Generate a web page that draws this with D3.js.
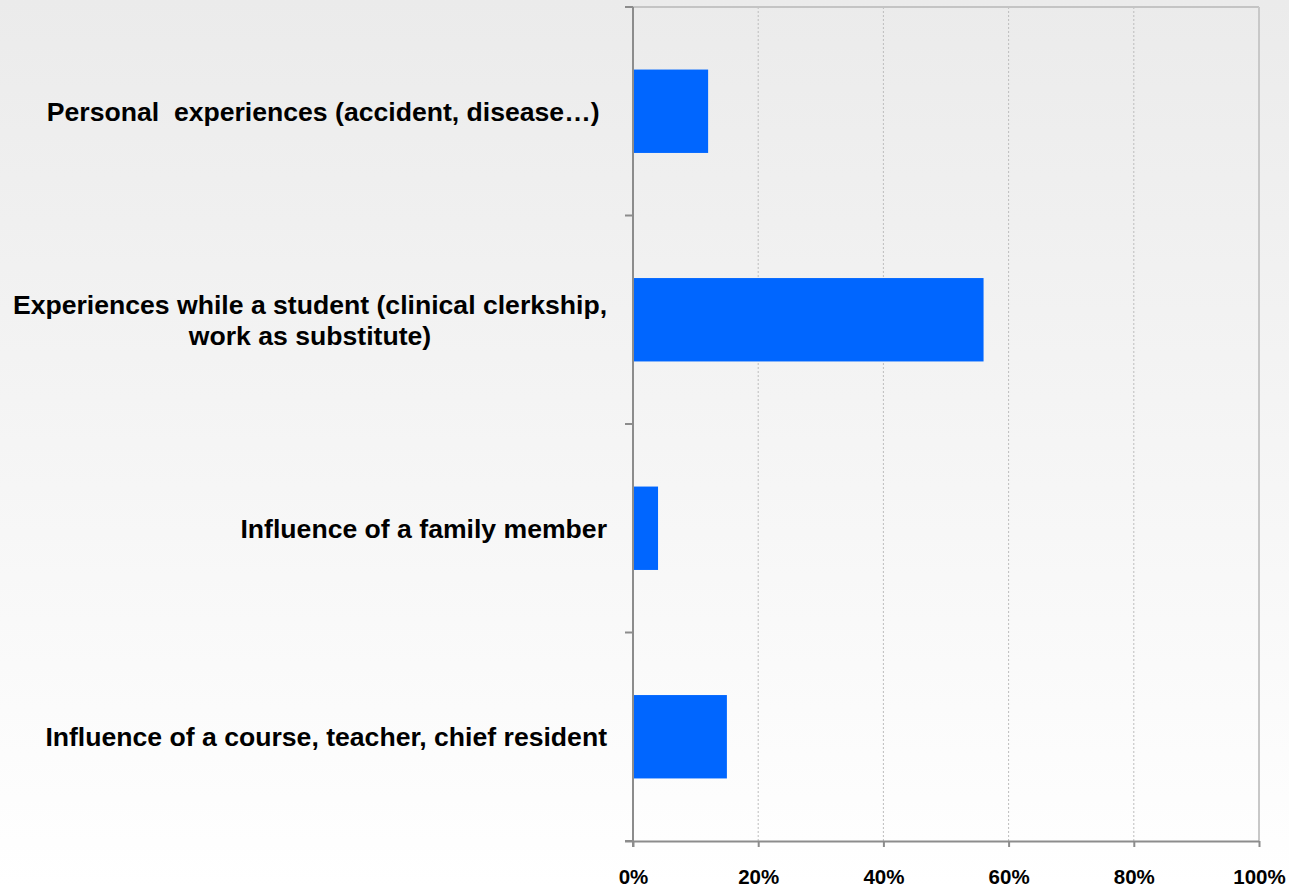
<!DOCTYPE html>
<html><head><meta charset="utf-8">
<script src="https://cdn.jsdelivr.net/npm/d3@7"></script>
<style>html,body{margin:0;padding:0;overflow:hidden;}</style>
</head><body>
<script>
const categories = [
  ["Personal  experiences (accident, disease\u2026) "],
  ["Experiences while a student (clinical clerkship,", "work as substitute)"],
  ["Influence of a family member"],
  ["Influence of a course, teacher, chief resident"]
];
const values = [12, 56, 4, 15];
const tickValues = [0, 20, 40, 60, 80, 100];
const tickLabels = ["0%", "20%", "40%", "60%", "80%", "100%"];

(function(){
const W = 1289, H = 887;
const svg = d3.select("body").append("svg").attr("width", W).attr("height", H)
  .style("font-family", "'Liberation Sans', Arial, sans-serif");

const defs = svg.append("defs");
const g = defs.append("linearGradient").attr("id", "bg").attr("x1", 0).attr("y1", 0).attr("x2", 0).attr("y2", 1);
g.append("stop").attr("offset", "0%").attr("stop-color", "#ebebeb");
g.append("stop").attr("offset", "100%").attr("stop-color", "#ffffff");
svg.append("rect").attr("width", W).attr("height", H).attr("fill", "url(#bg)");

const pL = 633, pR = 1259, pT = 7, pB = 841;
const x = d3.scaleLinear().domain([0, 100]).range([pL, pR]);
const y = d3.scaleBand().domain(d3.range(categories.length)).range([pT, pB]).padding(0);

svg.append("g").selectAll("line").data(tickValues.filter(v => v > 0 && v < 100)).join("line")
  .attr("x1", d => x(d)).attr("x2", d => x(d)).attr("y1", pT).attr("y2", pB)
  .attr("stroke", "#bdbdbd").attr("stroke-width", 1).attr("stroke-dasharray", "2,2");

svg.append("line").attr("x1", pL - 8).attr("x2", pR).attr("y1", pT).attr("y2", pT)
  .attr("stroke", "#c4c4c4").attr("stroke-width", 2);
svg.append("line").attr("x1", pR).attr("x2", pR).attr("y1", pT).attr("y2", pB)
  .attr("stroke", "#c8c8c8").attr("stroke-width", 2);

const bh = y.bandwidth() * 0.4;
svg.append("g").selectAll("rect").data(values).join("rect")
  .attr("x", x(0)).attr("y", (d, i) => y(i) + (y.bandwidth() - bh) / 2)
  .attr("width", d => x(d) - x(0)).attr("height", bh)
  .attr("fill", "#0066ff");

const xAxis = d3.axisBottom(x).tickValues(tickValues).tickFormat((d, i) => tickLabels[i]).tickSize(6).tickSizeOuter(0);
const xa = svg.append("g").attr("transform", `translate(0,${pB})`).call(xAxis);
xa.select(".domain").attr("stroke", "#8c8c8c").attr("stroke-width", 2).attr("d", `M${pL - 8},0.5H${pR}`);
xa.selectAll(".tick line").attr("stroke", "#8c8c8c").attr("stroke-width", 2);
xa.selectAll(".tick text").attr("y", 28).attr("dy", "0.71em")
  .attr("font-size", 20.5).attr("font-weight", "bold").attr("fill", "#000")
  .attr("font-family", "'Liberation Sans', Arial, sans-serif");

svg.append("line").attr("x1", pL).attr("x2", pL).attr("y1", pT).attr("y2", pB + 6)
  .attr("stroke", "#8c8c8c").attr("stroke-width", 2);
svg.append("g").selectAll("line").data(d3.range(categories.length + 1)).join("line")
  .attr("x1", pL - 8).attr("x2", pL).attr("y1", i => pT + i * y.step()).attr("y2", i => pT + i * y.step())
  .attr("stroke", "#8c8c8c").attr("stroke-width", 2);

const lab = svg.append("g").selectAll("text").data(categories).join("text")
  .attr("font-size", 26.6).attr("font-weight", "bold").attr("fill", "#000")
  .attr("text-anchor", d => d.length > 1 ? "middle" : "end")
  .attr("transform", (d, i) => {
    const cy = y(i) + y.bandwidth() / 2;
    const tx = d.length > 1 ? 310 : 607;
    return `translate(${tx},${cy})`;
  });
lab.selectAll("tspan").data(d => d.map((t, k) => ({t, k, n: d.length}))).join("tspan")
  .attr("x", 0)
  .attr("y", d => (d.k - (d.n - 1) / 2) * 31)
  .attr("dy", "0.35em")
  .style("white-space", "pre")
  .text(d => d.t);
})();
</script>
</body></html>
